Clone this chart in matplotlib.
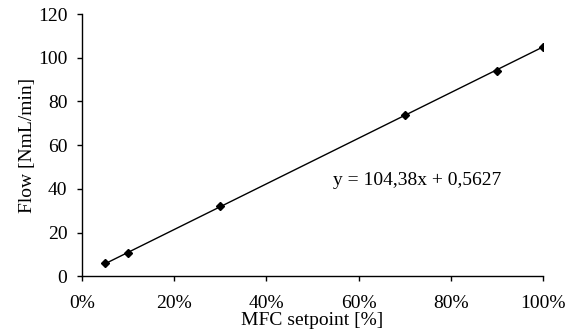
import matplotlib
matplotlib.use("Agg")
import matplotlib.pyplot as plt
from matplotlib.ticker import PercentFormatter
import numpy as np

plt.rcParams['font.family'] = ['Liberation Serif', 'DejaVu Serif']

# MFC setpoint (fraction of full scale) and measured flow
setpoint = [0.05, 0.10, 0.30, 0.70, 0.90, 1.00]
flow = [6.0, 10.8, 32.0, 73.8, 94.1, 105.1]

# Linear trendline coefficients
slope = 104.38
intercept = 0.5627
equation = "y = 104,38x + 0,5627"

x_ticks = [0.0, 0.2, 0.4, 0.6, 0.8, 1.0]
y_ticks = [0, 20, 40, 60, 80, 100, 120]

fig = plt.figure(figsize=(5.7, 3.34), dpi=100)
ax = fig.add_axes([0.1439, 0.1725, 0.8087, 0.7855])

xs = np.array([min(setpoint), max(setpoint)])
ax.plot(xs, slope * xs + intercept, color='black', lw=1.0, zorder=2)
ax.plot(setpoint, flow, linestyle='none', marker='D', markersize=4,
        color='black', zorder=3)

ax.set_xlim(0, 1.0)
ax.set_ylim(0, 120)
ax.set_xticks(x_ticks)
ax.set_yticks(y_ticks)
ax.xaxis.set_major_formatter(PercentFormatter(1.0, decimals=0))

for side in ['top', 'right']:
    ax.spines[side].set_visible(False)
for side in ['left', 'bottom']:
    ax.spines[side].set_linewidth(1.0)
ax.tick_params(direction='out', length=3.6, width=1.0, labelsize=14)
ax.tick_params(axis='x', pad=9.5)
ax.tick_params(axis='y', pad=7)

ax.set_xlabel("MFC setpoint [%]", fontsize=14, labelpad=0)
ax.set_ylabel("Flow [NmL/min]", fontsize=14, labelpad=1)

ax.text(0.544, 44, equation, fontsize=14, ha='left', va='center')

fig.savefig("out.png", dpi=100)
